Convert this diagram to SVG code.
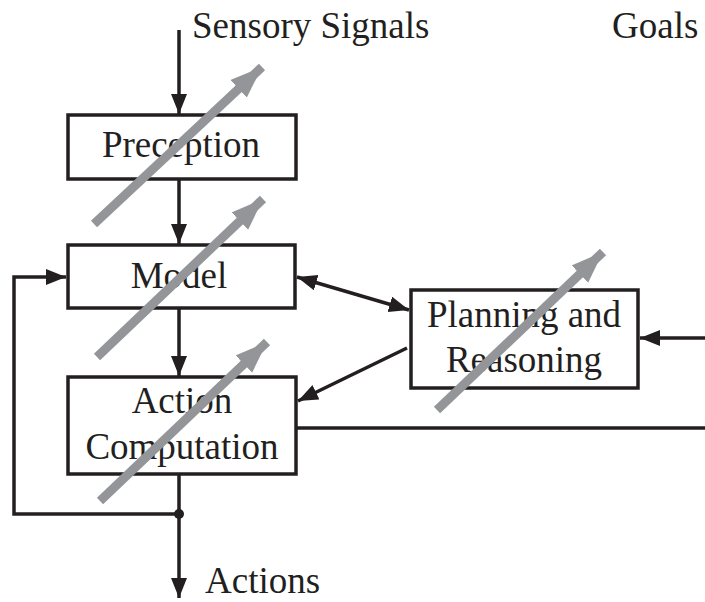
<svg xmlns="http://www.w3.org/2000/svg" width="705" height="602" viewBox="0 0 705 602">
<style>
  .box { fill: #ffffff; stroke: #231f20; stroke-width: 3.5; }
  .lbl { font-family: "Liberation Serif", "Times New Roman", serif; font-size: 37px; fill: #231f20; }
  .conn { stroke: #231f20; stroke-width: 3.5; fill: none; }
  .adj { stroke: #939598; stroke-width: 9; fill: none; }
</style>
<defs>
  <marker id="ah" markerUnits="userSpaceOnUse" markerWidth="22" markerHeight="18" refX="20" refY="8" orient="auto-start-reverse">
    <path d="M0,0 L20,8 L0,16 z" fill="#231f20"/>
  </marker>
  <marker id="gh" markerUnits="userSpaceOnUse" markerWidth="34" markerHeight="26" refX="32" refY="12" orient="auto">
    <path d="M0,0 L32,12 L0,24 z" fill="#939598"/>
  </marker>
</defs>
<rect x="0" y="0" width="705" height="602" fill="#ffffff"/>
<g id="connectors">
  <line class="conn" x1="179" y1="30" x2="179" y2="114" marker-end="url(#ah)"/>
  <line class="conn" x1="179" y1="180" x2="179" y2="244" marker-end="url(#ah)"/>
  <line class="conn" x1="179" y1="308" x2="179" y2="376" marker-end="url(#ah)"/>
  <polyline class="conn" points="179,474 179,514 14,514 14,277 66,277" marker-end="url(#ah)"/>
  <line class="conn" x1="179" y1="514" x2="179" y2="598" marker-end="url(#ah)"/>
  <circle cx="179" cy="514" r="5" fill="#231f20"/>
  <line class="conn" x1="297" y1="277" x2="409" y2="310" marker-start="url(#ah)" marker-end="url(#ah)"/>
  <line class="conn" x1="407" y1="348" x2="298" y2="401" marker-end="url(#ah)"/>
  <line class="conn" x1="705" y1="338" x2="640" y2="338" marker-end="url(#ah)"/>
  <line class="conn" x1="296" y1="428" x2="705" y2="428"/>
  <text class="lbl" x="192" y="38">Sensory Signals</text>
  <text class="lbl" x="612" y="38">Goals</text>
  <text class="lbl" x="205" y="593">Actions</text>
</g>
<g id="preception">
  <rect class="box" x="68" y="115" width="228" height="64"/>
  <text class="lbl" x="181" y="157" text-anchor="middle">Preception</text>
  <line class="adj" x1="94" y1="224" x2="262" y2="67" marker-end="url(#gh)"/>
</g>
<g id="model">
  <rect class="box" x="68" y="245" width="227" height="63"/>
  <text class="lbl" x="179" y="288" text-anchor="middle">Model</text>
  <line class="adj" x1="97" y1="357" x2="263" y2="199" marker-end="url(#gh)"/>
</g>
<g id="action">
  <rect class="box" x="68" y="377" width="228" height="97"/>
  <text class="lbl" x="182" y="413" text-anchor="middle">Action</text>
  <text class="lbl" x="182" y="459" text-anchor="middle">Computation</text>
  <line class="adj" x1="100" y1="501" x2="267" y2="342" marker-end="url(#gh)"/>
</g>
<g id="planning">
  <rect class="box" x="411" y="290" width="227" height="98"/>
  <text class="lbl" x="524" y="327" text-anchor="middle">Planning and</text>
  <text class="lbl" x="524" y="372" text-anchor="middle">Reasoning</text>
  <line class="adj" x1="437" y1="410" x2="603" y2="252" marker-end="url(#gh)"/>
</g>
</svg>
